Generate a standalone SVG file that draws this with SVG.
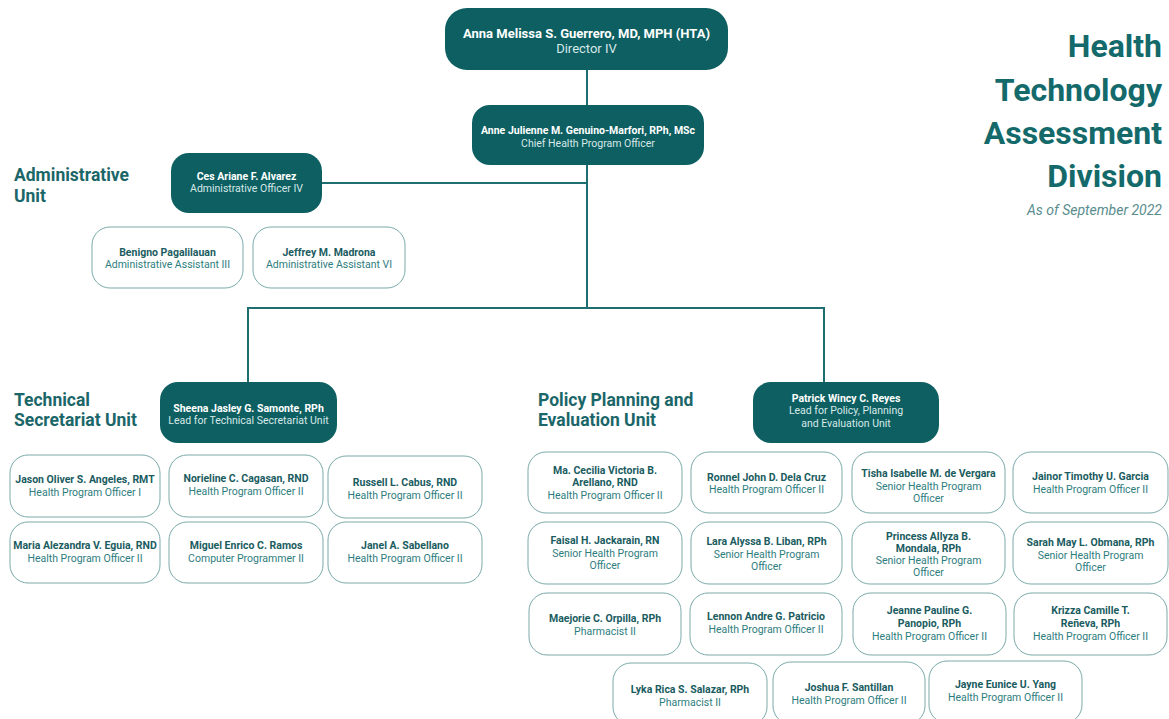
<svg xmlns="http://www.w3.org/2000/svg" width="1169" height="719" viewBox="0 0 1169 719">
<style>
text{font-family:Roboto,"Liberation Sans",Arial,sans-serif;text-anchor:middle}
.dark{fill:#0d5f61}
.lite{fill:#ffffff;stroke:#7aa9aa;stroke-width:1}
.nw{fill:#ffffff;font-weight:700;font-size:10.5px}
.tw{fill:#d6e8e8;font-size:10.5px}
.nd{fill:#1a5c5f;font-weight:700;font-size:10.5px}
.td{fill:#2e7d7e;font-size:10.5px}
.unit{fill:#1a6668;font-weight:700;font-size:17.5px;text-anchor:start}
.big{fill:#146a6b;font-weight:700;font-size:32px;text-anchor:end}
.sub{fill:#5a8d8e;font-style:italic;font-size:14px;text-anchor:end}
.con{fill:none;stroke:#1f6f71;stroke-width:2}
</style>

<g id="title">
<text class="big" x="1162" y="57">Health</text>
<text class="big" x="1162" y="101">Technology</text>
<text class="big" x="1162" y="144">Assessment</text>
<text class="big" x="1162" y="187">Division</text>
<text class="sub" x="1162" y="215">As of September 2022</text>
</g>

<g id="unit-labels">
<text class="unit" x="14" y="181">Administrative</text>
<text class="unit" x="14" y="202">Unit</text>
<text class="unit" x="14" y="406">Technical</text>
<text class="unit" x="14" y="426">Secretariat Unit</text>
<text class="unit" x="538" y="406">Policy Planning and</text>
<text class="unit" x="538" y="426">Evaluation Unit</text>
</g>

<g id="connectors">
<path class="con" d="M587 70V308"/>
<path class="con" d="M322 183H587"/>
<path class="con" d="M248 383V308H824V382"/>
</g>

<g id="director">
<rect class="dark" x="445" y="8" width="283" height="62" rx="22"/>
<text class="nw" x="586.5" y="38" style="font-size:13px">Anna Melissa S. Guerrero, MD, MPH (HTA)</text>
<text class="tw" x="586.5" y="53" style="font-size:13px">Director IV</text>
</g>

<g id="chief">
<rect class="dark" x="472" y="105" width="232" height="60" rx="18"/>
<text class="nw" x="588" y="134">Anne Julienne M. Genuino-Marfori, RPh, MSc</text>
<text class="tw" x="588" y="147">Chief Health Program Officer</text>
</g>

<g id="alvarez">
<rect class="dark" x="171" y="153" width="151" height="60" rx="18"/>
<text class="nw" x="246.5" y="180">Ces Ariane F. Alvarez</text>
<text class="tw" x="246.5" y="192">Administrative Officer IV</text>
</g>

<g id="pagalilauan">
<rect class="lite" x="92" y="227" width="151" height="61" rx="18"/>
<text class="nd" x="167.5" y="256">Benigno Pagalilauan</text>
<text class="td" x="167.5" y="268">Administrative Assistant III</text>
</g>
<g id="madrona">
<rect class="lite" x="253" y="227" width="152" height="61" rx="18"/>
<text class="nd" x="329" y="256">Jeffrey M. Madrona</text>
<text class="td" x="329" y="268">Administrative Assistant VI</text>
</g>

<g id="samonte">
<rect class="dark" x="160" y="382" width="177" height="61" rx="18"/>
<text class="nw" x="248.5" y="412">Sheena Jasley G. Samonte, RPh</text>
<text class="tw" x="248.5" y="424">Lead for Technical Secretariat Unit</text>
</g>

<g id="angeles">
<rect class="lite" x="10" y="455" width="150" height="62" rx="18"/>
<text class="nd" x="85" y="483">Jason Oliver S. Angeles, RMT</text>
<text class="td" x="85" y="496">Health Program Officer I</text>
</g>
<g id="cagasan">
<rect class="lite" x="169" y="455" width="154" height="62" rx="18"/>
<text class="nd" x="246" y="482">Norieline C. Cagasan, RND</text>
<text class="td" x="246" y="495">Health Program Officer II</text>
</g>
<g id="cabus">
<rect class="lite" x="328" y="456" width="154" height="62" rx="18"/>
<text class="nd" x="405" y="486">Russell L. Cabus, RND</text>
<text class="td" x="405" y="499">Health Program Officer II</text>
</g>
<g id="eguia">
<rect class="lite" x="10" y="522" width="150" height="61" rx="18"/>
<text class="nd" x="85" y="549">Maria Alezandra V. Eguia, RND</text>
<text class="td" x="85" y="562">Health Program Officer II</text>
</g>
<g id="ramos">
<rect class="lite" x="169" y="522" width="154" height="61" rx="18"/>
<text class="nd" x="246" y="549">Miguel Enrico C. Ramos</text>
<text class="td" x="246" y="562">Computer Programmer II</text>
</g>
<g id="sabellano">
<rect class="lite" x="328" y="522" width="154" height="61" rx="18"/>
<text class="nd" x="405" y="549">Janel A. Sabellano</text>
<text class="td" x="405" y="562">Health Program Officer II</text>
</g>

<g id="reyes">
<rect class="dark" x="753" y="382" width="186" height="61" rx="18"/>
<text class="nw" x="846" y="402">Patrick Wincy C. Reyes</text>
<text class="tw" x="846" y="414">Lead for Policy, Planning</text>
<text class="tw" x="846" y="427">and Evaluation Unit</text>
</g>

<g id="arellano">
<rect class="lite" x="528" y="452" width="154" height="61" rx="18"/>
<text class="nd" x="605" y="474">Ma. Cecilia Victoria B.</text>
<text class="nd" x="605" y="486">Arellano, RND</text>
<text class="td" x="605" y="499">Health Program Officer II</text>
</g>
<g id="delacruz">
<rect class="lite" x="691" y="452" width="151" height="61" rx="18"/>
<text class="nd" x="766.5" y="481">Ronnel John D. Dela Cruz</text>
<text class="td" x="766.5" y="493">Health Program Officer II</text>
</g>
<g id="devergara">
<rect class="lite" x="852" y="452" width="153" height="61" rx="18"/>
<text class="nd" x="928.5" y="477">Tisha Isabelle M. de Vergara</text>
<text class="td" x="928.5" y="490">Senior Health Program</text>
<text class="td" x="928.5" y="502">Officer</text>
</g>
<g id="garcia">
<rect class="lite" x="1013" y="452" width="155" height="61" rx="18"/>
<text class="nd" x="1090.5" y="480">Jainor Timothy U. Garcia</text>
<text class="td" x="1090.5" y="493">Health Program Officer II</text>
</g>

<g id="jackarain">
<rect class="lite" x="528" y="522" width="154" height="62" rx="18"/>
<text class="nd" x="605" y="544">Faisal H. Jackarain, RN</text>
<text class="td" x="605" y="557">Senior Health Program</text>
<text class="td" x="605" y="569">Officer</text>
</g>
<g id="liban">
<rect class="lite" x="691" y="522" width="151" height="62" rx="18"/>
<text class="nd" x="766.5" y="545">Lara Alyssa B. Liban, RPh</text>
<text class="td" x="766.5" y="558">Senior Health Program</text>
<text class="td" x="766.5" y="570">Officer</text>
</g>
<g id="mondala">
<rect class="lite" x="852" y="522" width="153" height="62" rx="18"/>
<text class="nd" x="928.5" y="540">Princess Allyza B.</text>
<text class="nd" x="928.5" y="552">Mondala, RPh</text>
<text class="td" x="928.5" y="564">Senior Health Program</text>
<text class="td" x="928.5" y="576">Officer</text>
</g>
<g id="obmana">
<rect class="lite" x="1013" y="522" width="155" height="62" rx="18"/>
<text class="nd" x="1090.5" y="546">Sarah May L. Obmana, RPh</text>
<text class="td" x="1090.5" y="559">Senior Health Program</text>
<text class="td" x="1090.5" y="571">Officer</text>
</g>

<g id="orpilla">
<rect class="lite" x="529" y="593" width="152" height="62" rx="18"/>
<text class="nd" x="605" y="622">Maejorie C. Orpilla, RPh</text>
<text class="td" x="605" y="635">Pharmacist II</text>
</g>
<g id="patricio">
<rect class="lite" x="690" y="593" width="152" height="62" rx="18"/>
<text class="nd" x="766" y="620">Lennon Andre G. Patricio</text>
<text class="td" x="766" y="633">Health Program Officer II</text>
</g>
<g id="panopio">
<rect class="lite" x="853" y="593" width="153" height="62" rx="18"/>
<text class="nd" x="929.5" y="614">Jeanne Pauline G.</text>
<text class="nd" x="929.5" y="627">Panopio, RPh</text>
<text class="td" x="929.5" y="640">Health Program Officer II</text>
</g>
<g id="reneva">
<rect class="lite" x="1014" y="593" width="153" height="62" rx="18"/>
<text class="nd" x="1090.5" y="614">Krizza Camille T.</text>
<text class="nd" x="1090.5" y="627">Reñeva, RPh</text>
<text class="td" x="1090.5" y="640">Health Program Officer II</text>
</g>

<g id="salazar">
<rect class="lite" x="613" y="663" width="154" height="62" rx="18"/>
<text class="nd" x="690" y="693">Lyka Rica S. Salazar, RPh</text>
<text class="td" x="690" y="706">Pharmacist II</text>
</g>
<g id="santillan">
<rect class="lite" x="773" y="662" width="152" height="62" rx="18"/>
<text class="nd" x="849" y="691">Joshua F. Santillan</text>
<text class="td" x="849" y="704">Health Program Officer II</text>
</g>
<g id="yang">
<rect class="lite" x="929" y="661" width="153" height="62" rx="18"/>
<text class="nd" x="1005.5" y="688">Jayne Eunice U. Yang</text>
<text class="td" x="1005.5" y="701">Health Program Officer II</text>
</g>
</svg>
